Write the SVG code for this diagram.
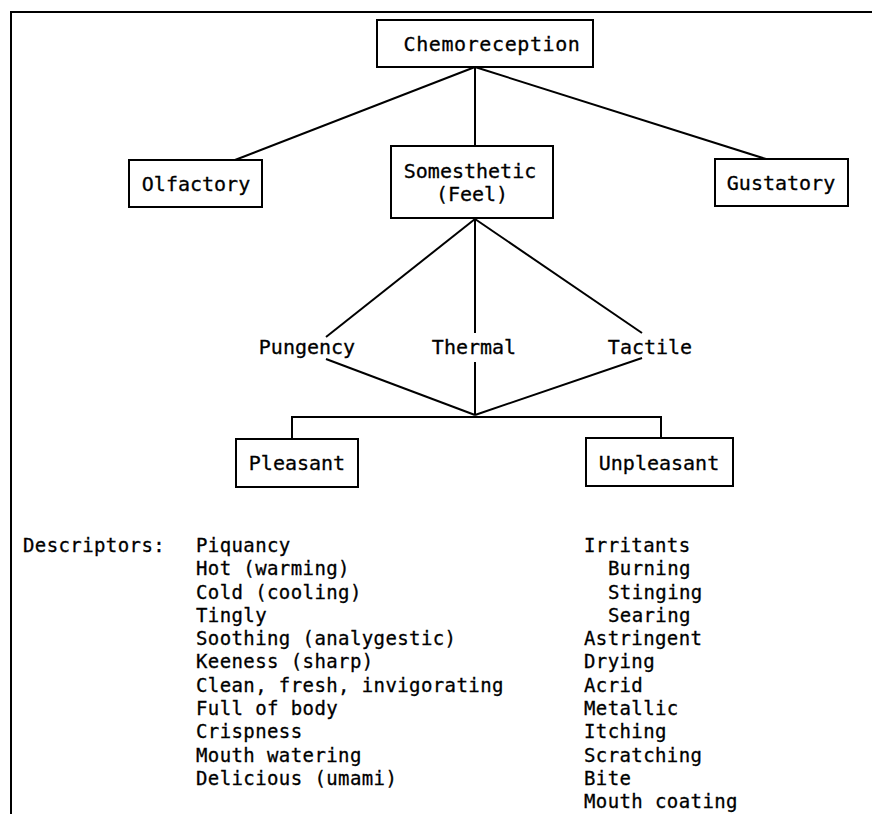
<svg xmlns="http://www.w3.org/2000/svg" width="872" height="814" viewBox="0 0 872 814">
<style>
.box{fill:#fff;stroke:#000;stroke-width:2}
.ln{stroke:#000;stroke-width:2;fill:none}
.lbl{font-family:"DejaVu Sans Mono","Liberation Mono",monospace;font-size:20px;fill:#000;stroke:#000;stroke-width:0.3;text-anchor:middle}
.t{font-family:"DejaVu Sans Mono","Liberation Mono",monospace;font-size:19px;letter-spacing:0.4px;fill:#000;stroke:#000;stroke-width:0.3}
</style>
<rect width="872" height="814" fill="#fff"/>
<g id="frame">
<path class="ln" d="M11,814 V12 H872"/>
</g>
<g id="connectors">
<line class="ln" x1="475" y1="67" x2="235" y2="160"/>
<line class="ln" x1="475" y1="67" x2="475" y2="146"/>
<line class="ln" x1="475" y1="67" x2="766" y2="159"/>
<line class="ln" x1="475" y1="219" x2="326" y2="337"/>
<line class="ln" x1="475" y1="219" x2="475" y2="333"/>
<line class="ln" x1="475" y1="219" x2="642" y2="333"/>
<line class="ln" x1="326" y1="359" x2="475" y2="415"/>
<line class="ln" x1="475" y1="362" x2="475" y2="415"/>
<line class="ln" x1="642" y1="358" x2="475" y2="415"/>
<path class="ln" d="M292,439 V417 H661 V438"/>
</g>
<g id="chemoreception">
<rect class="box" x="377" y="20" width="216" height="47"/>
<text class="lbl" x="492" y="51" style="letter-spacing:0.6px">Chemoreception</text>
</g>
<g id="olfactory">
<rect class="box" x="129" y="160" width="133" height="47"/>
<text class="lbl" x="196" y="191">Olfactory</text>
</g>
<g id="somesthetic">
<rect class="box" x="391" y="146" width="162" height="72"/>
<text class="lbl" x="470" y="178">Somesthetic</text>
<text class="lbl" x="472" y="201">(Feel)</text>
</g>
<g id="gustatory">
<rect class="box" x="715" y="159" width="133" height="47"/>
<text class="lbl" x="781" y="190">Gustatory</text>
</g>
<g id="pungency"><text class="lbl" x="307" y="354">Pungency</text></g>
<g id="thermal"><text class="lbl" x="474" y="354">Thermal</text></g>
<g id="tactile"><text class="lbl" x="650" y="354">Tactile</text></g>
<g id="pleasant">
<rect class="box" x="236" y="439" width="122" height="48"/>
<text class="lbl" x="297" y="470">Pleasant</text>
</g>
<g id="unpleasant">
<rect class="box" x="586" y="438" width="147" height="48"/>
<text class="lbl" x="659" y="470">Unpleasant</text>
</g>
<g id="descriptors">
<text class="t" x="23" y="552">Descriptors:</text>
<text class="t" x="196" y="552">Piquancy</text>
<text class="t" x="196" y="575">Hot (warming)</text>
<text class="t" x="196" y="599">Cold (cooling)</text>
<text class="t" x="196" y="622">Tingly</text>
<text class="t" x="196" y="645">Soothing (analygestic)</text>
<text class="t" x="196" y="668">Keeness (sharp)</text>
<text class="t" x="196" y="692">Clean, fresh, invigorating</text>
<text class="t" x="196" y="715">Full of body</text>
<text class="t" x="196" y="738">Crispness</text>
<text class="t" x="196" y="762">Mouth watering</text>
<text class="t" x="196" y="785">Delicious (umami)</text>
<text class="t" x="584" y="552">Irritants</text>
<text class="t" x="608" y="575">Burning</text>
<text class="t" x="608" y="599">Stinging</text>
<text class="t" x="608" y="622">Searing</text>
<text class="t" x="584" y="645">Astringent</text>
<text class="t" x="584" y="668">Drying</text>
<text class="t" x="584" y="692">Acrid</text>
<text class="t" x="584" y="715">Metallic</text>
<text class="t" x="584" y="738">Itching</text>
<text class="t" x="584" y="762">Scratching</text>
<text class="t" x="584" y="785">Bite</text>
<text class="t" x="584" y="808">Mouth coating</text>
</g>
</svg>
